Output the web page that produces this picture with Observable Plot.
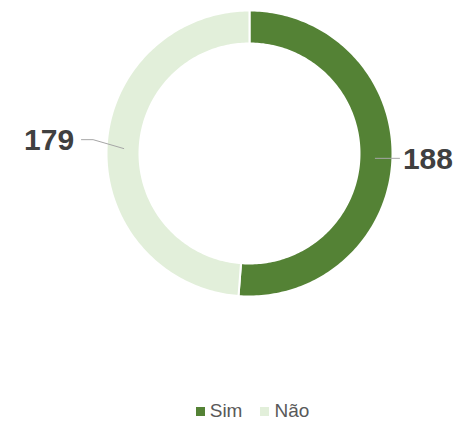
<!DOCTYPE html>
<html>
<head>
<meta charset="utf-8">
<script src="https://cdn.jsdelivr.net/npm/d3@7"></script>
<script src="https://cdn.jsdelivr.net/npm/@observablehq/plot@0.6"></script>
<style>
  body { margin: 0; background: #fff; font-family: "Liberation Sans", Arial, sans-serif; }
  #legend { height: 22px; padding-top: 10px; padding-left: 48px; display: flex; justify-content: center; align-items: center; font-size: 19px; color: #595959; }
  .item { display: flex; align-items: center; margin: 0 9px; }
  .sw { width: 9px; height: 9px; margin-right: 5px; }
</style>
</head>
<body>
<div id="chart"></div>
<div id="legend"></div>
<script>
const categories = ["Sim", "Não"];
const values = [188, 179];
const colors = ["#548235", "#E2EFDA"];

const W = 457, H = 390;
const cx = 249, cy = 153, rOuter = 143, rInner = 110;

const pie = d3.pie().sort(null).value(d => d.value)(categories.map((c, i) => ({key: c, value: values[i], color: colors[i]})));

function pt(a, r) { return [cx + r * Math.sin(a), cy - r * Math.cos(a)]; }

const marks = [];
const labels = [];
const leaders = [];
pie.forEach(s => {
  const pts = [];
  const n = 180;
  for (let k = 0; k <= n; k++) { const a = s.startAngle + (s.endAngle - s.startAngle) * k / n; pts.push(pt(a, rOuter)); }
  for (let k = n; k >= 0; k--) { const a = s.startAngle + (s.endAngle - s.startAngle) * k / n; pts.push(pt(a, rInner)); }
  marks.push(Plot.line(pts, {x: d => d[0], y: d => d[1], fill: s.data.color, stroke: "white", strokeWidth: 2, curve: "linear-closed"}));
  const mid = (s.startAngle + s.endAngle) / 2;
  const p0 = pt(mid, (rOuter + rInner) / 2 - 1);
  const right = Math.sin(mid) > 0;
  if (right) {
    leaders.push({x1: p0[0], y1: p0[1], x2: p0[0] + 25, y2: p0[1]});
    labels.push({x: p0[0] + 28, y: p0[1] + 1, text: String(s.data.value), anchor: "start"});
  } else {
    const kx = p0[0] - 31, ky = p0[1] - 9;
    leaders.push({x1: p0[0], y1: p0[1], x2: kx, y2: ky});
    leaders.push({x1: kx, y1: ky, x2: kx - 12, y2: ky});
    labels.push({x: kx - 19, y: ky + 1, text: String(s.data.value), anchor: "end"});
  }
});

const chart = Plot.plot({
  width: W, height: H,
  margin: 0,
  x: {domain: [0, W], range: [0, W], axis: null},
  y: {domain: [0, H], range: [0, H], axis: null},
  style: {background: "white"},
  marks: [
    ...marks,
    Plot.link(leaders, {x1: "x1", y1: "y1", x2: "x2", y2: "y2", stroke: "#A6A6A6", strokeWidth: 1}),
    Plot.text(labels.filter(d => d.anchor === "start"), {x: "x", y: "y", text: "text", textAnchor: "start", fontSize: 30, fontWeight: "bold", fill: "#404040", fontFamily: "Liberation Sans, Arial, sans-serif"}),
    Plot.text(labels.filter(d => d.anchor === "end"), {x: "x", y: "y", text: "text", textAnchor: "end", fontSize: 30, fontWeight: "bold", fill: "#404040", fontFamily: "Liberation Sans, Arial, sans-serif"})
  ]
});
document.getElementById("chart").appendChild(chart);

const legend = document.getElementById("legend");
categories.forEach((c, i) => {
  const it = document.createElement("div");
  it.className = "item";
  const sw = document.createElement("div");
  sw.className = "sw";
  sw.style.background = colors[i];
  const t = document.createElement("span");
  t.textContent = c;
  it.appendChild(sw); it.appendChild(t);
  legend.appendChild(it);
});
</script>
</body>
</html>
